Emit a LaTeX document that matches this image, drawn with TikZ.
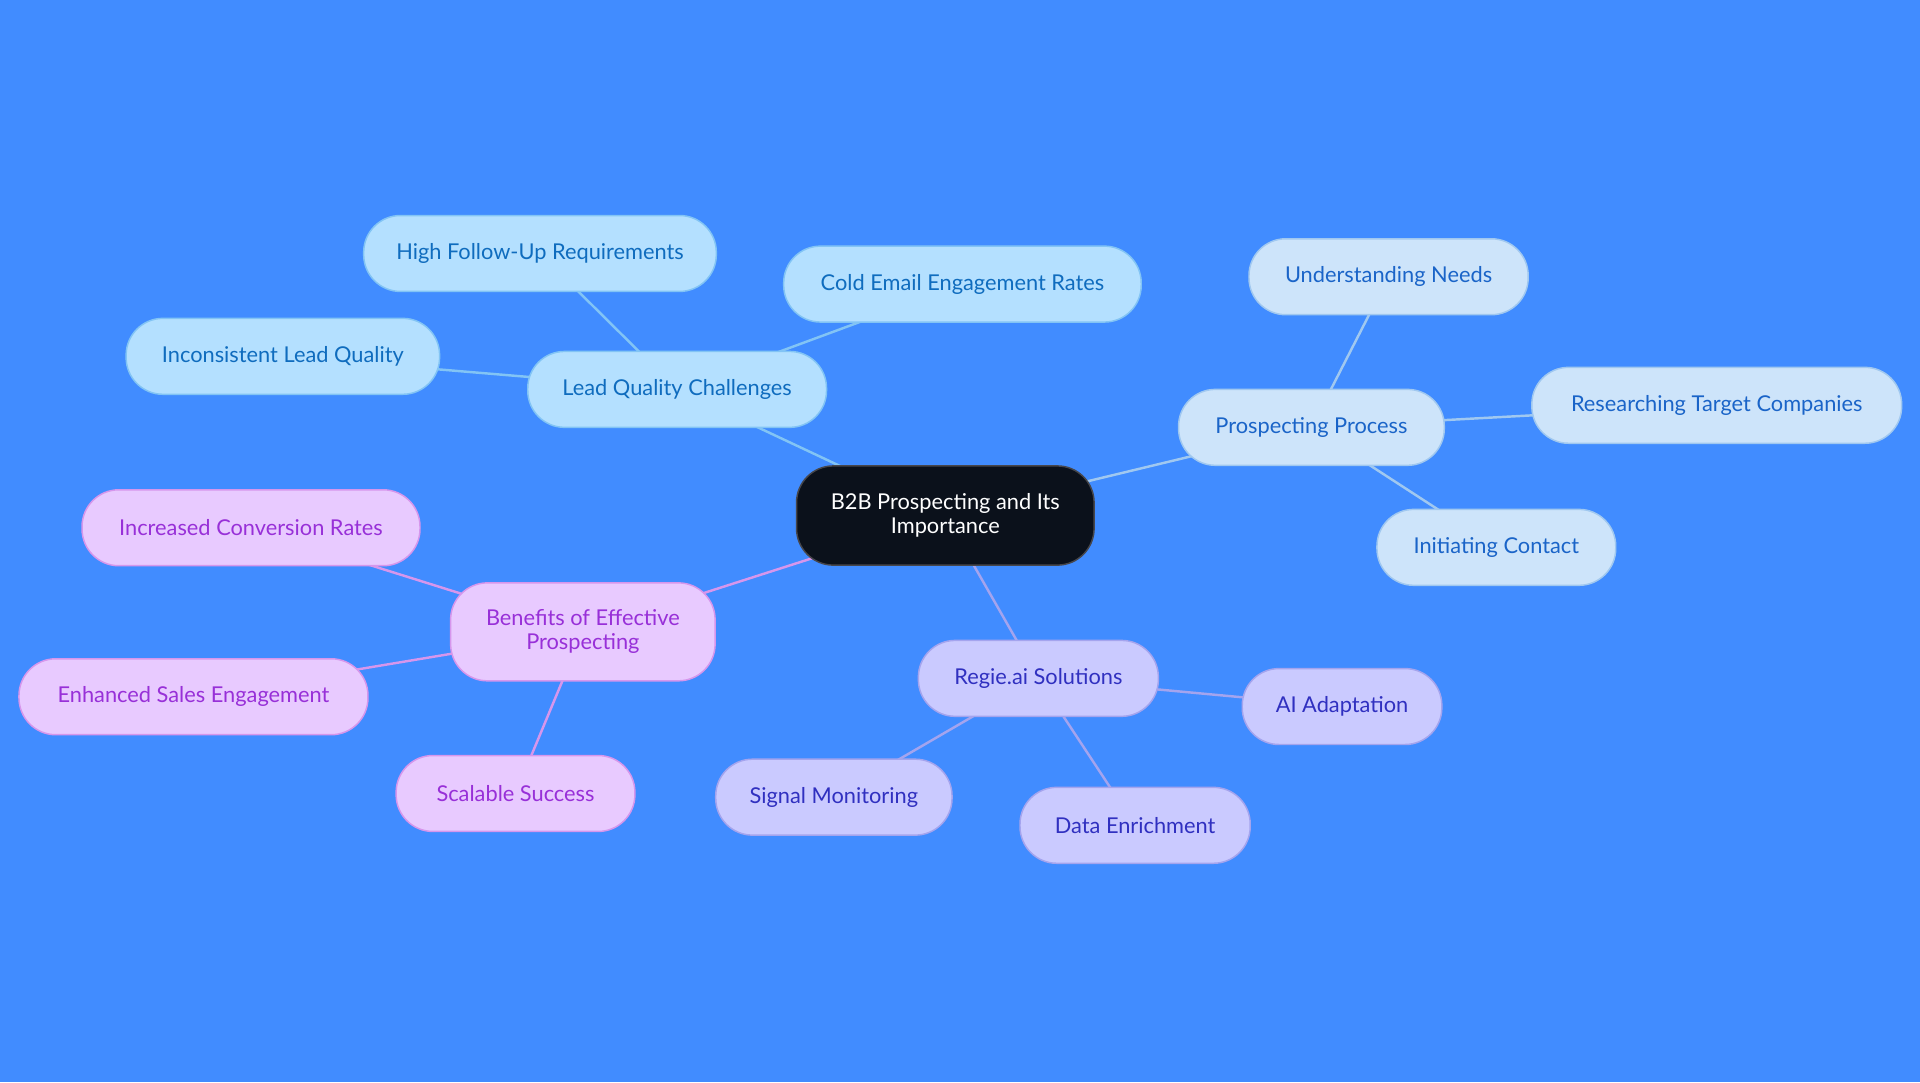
\documentclass[tikz,border=0pt]{standalone}
\usepackage{fontspec}
\setmainfont{Lato}
\definecolor{bg}{RGB}{65,140,255}
\definecolor{lqfill}{RGB}{180,224,255}
\definecolor{lqdraw}{RGB}{130,196,245}
\definecolor{lqtext}{RGB}{15,108,190}
\definecolor{ppfill}{RGB}{205,228,250}
\definecolor{ppdraw}{RGB}{160,200,240}
\definecolor{pptext}{RGB}{26,100,200}
\definecolor{bnfill}{RGB}{232,202,255}
\definecolor{bndraw}{RGB}{214,150,236}
\definecolor{bntext}{RGB}{152,48,216}
\definecolor{rgfill}{RGB}{202,202,255}
\definecolor{rgdraw}{RGB}{164,164,238}
\definecolor{rgtext}{RGB}{48,48,192}
\definecolor{ctfill}{RGB}{11,17,27}
\definecolor{ctdraw}{RGB}{70,70,75}
\pgfdeclarelayer{bglayer}
\pgfdeclarelayer{edges}
\pgfsetlayers{bglayer,edges,main}
\begin{document}
\begin{tikzpicture}[x=1pt,y=-1pt,
  box/.style={rounded corners=30pt, line width=1.2pt, minimum height=62pt, inner sep=0pt, align=center, font=\fontsize{17.8}{19.5}\selectfont},
  lq/.style={box, fill=lqfill, draw=lqdraw, text=lqtext},
  pp/.style={box, fill=ppfill, draw=ppdraw, text=pptext},
  bn/.style={box, fill=bnfill, draw=bndraw, text=bntext},
  rg/.style={box, fill=rgfill, draw=rgdraw, text=rgtext},
  ct/.style={box, fill=ctfill, draw=ctdraw, text=white},
  lqe/.style={draw=lqdraw, line width=2pt},
  ppe/.style={draw=ppdraw, line width=2pt},
  bne/.style={draw=bndraw, line width=2pt},
  rge/.style={draw=rgdraw, line width=2pt}]
\begin{pgfonlayer}{bglayer}
\fill[bg] (0,0) rectangle (1568,884);
\end{pgfonlayer}
\useasboundingbox (0,0) rectangle (1568,884);
% nodes
\node[ct, minimum width=243pt, minimum height=81pt] (c) at (772,421) {B2B Prospecting and Its\\Importance};
\node[lq, minimum width=244pt] (lq) at (553,318) {Lead Quality Challenges};
\node[lq, minimum width=288pt] (hf) at (441,207) {High Follow-Up Requirements};
\node[lq, minimum width=292pt] (ce) at (786,232) {Cold Email Engagement Rates};
\node[lq, minimum width=256pt] (il) at (231,291) {Inconsistent Lead Quality};
\node[pp, minimum width=217pt] (pp) at (1071,349) {Prospecting Process};
\node[pp, minimum width=228pt] (un) at (1134,226) {Understanding Needs};
\node[pp, minimum width=302pt] (rt) at (1402,331) {Researching Target Companies};
\node[pp, minimum width=195pt] (ic) at (1222,447) {Initiating Contact};
\node[bn, minimum width=216pt, minimum height=80pt] (be) at (476,516) {Benefits of Effective\\Prospecting};
\node[bn, minimum width=276pt] (cr) at (205,431) {Increased Conversion Rates};
\node[bn, minimum width=285pt] (es) at (158,569) {Enhanced Sales Engagement};
\node[bn, minimum width=195pt] (ss) at (421,648) {Scalable Success};
\node[rg, minimum width=196pt] (rg) at (848,554) {Regie.ai Solutions};
\node[rg, minimum width=163pt] (ai) at (1096,577) {AI Adaptation};
\node[rg, minimum width=193pt] (sm) at (681,651) {Signal Monitoring};
\node[rg, minimum width=188pt] (de) at (927,674) {Data Enrichment};
% connectors
\begin{pgfonlayer}{edges}
\draw[lqe] (c.center) -- (lq.center);
\draw[lqe] (lq.center) -- (hf.center);
\draw[lqe] (lq.center) -- (ce.center);
\draw[lqe] (lq.center) -- (il.center);
\draw[ppe] (c.center) -- (pp.center);
\draw[ppe] (pp.center) -- (un.center);
\draw[ppe] (pp.center) -- (rt.center);
\draw[ppe] (pp.center) -- (ic.center);
\draw[bne] (c.center) -- (be.center);
\draw[bne] (be.center) -- (cr.center);
\draw[bne] (be.center) -- (es.center);
\draw[bne] (be.center) -- (ss.center);
\draw[rge] (c.center) -- (rg.center);
\draw[rge] (rg.center) -- (ai.center);
\draw[rge] (rg.center) -- (sm.center);
\draw[rge] (rg.center) -- (de.center);
\end{pgfonlayer}
\end{tikzpicture}
\end{document}
